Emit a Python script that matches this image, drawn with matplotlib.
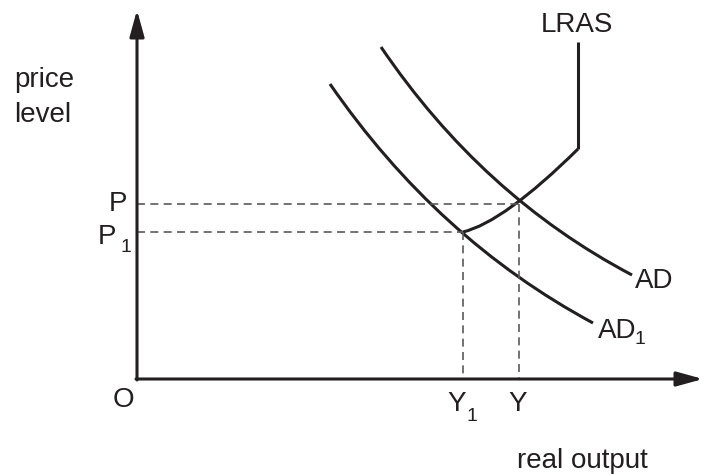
import matplotlib
matplotlib.use("Agg")
import matplotlib.pyplot as plt
from matplotlib.path import Path
from matplotlib.patches import PathPatch

plt.rcParams['font.family'] = ['Liberation Sans', 'DejaVu Sans']

# Curve definitions (quadratic Bezier: start, control, end) in chart units
ad_curve = [(244, 332), (345, 183), (495, 104)]
ad1_curve = [(193, 295), (300, 140), (456, 56)]
sras_curve = [(326, 147), (367, 157), (441, 230)]
lras_vertical_x = 441
lras_vertical_y = [230, 337]

# Equilibria
eq_points = {"P": (382, 175), "P1": (326, 147)}

INK = '#231f20'
DASH = '#5a5a5a'

fig = plt.figure(figsize=(7.04, 4.74), dpi=100)
W, H = 704, 474
ox, oy = 137, 379
ax = fig.add_axes([ox / W, (H - oy) / H, (W - ox) / W, (oy - 10) / H])
ax.set_xlim(0, W - ox)
ax.set_ylim(0, oy - 10)
ax.axis('off')

# axes with arrows
arrow_kw = dict(arrowstyle='-|>,head_length=0.8,head_width=0.22', color=INK,
                lw=2.2, shrinkA=0, shrinkB=0, mutation_scale=20)
ax.annotate('', xy=(566, 0), xytext=(-1, 0), arrowprops=arrow_kw, annotation_clip=False)
ax.annotate('', xy=(0, 369), xytext=(0, -1), arrowprops=arrow_kw, annotation_clip=False)

def bez(pts):
    return PathPatch(Path(pts, [Path.MOVETO, Path.CURVE3, Path.CURVE3]),
                     fill=False, ec=INK, lw=2.2, capstyle='butt', clip_on=False)

for c in (ad_curve, ad1_curve, sras_curve):
    ax.add_patch(bez(c))
ax.plot([lras_vertical_x, lras_vertical_x], lras_vertical_y, color=INK, lw=2.2,
        solid_capstyle='butt', clip_on=False)

for (x, y) in eq_points.values():
    ax.plot([0, x], [y, y], color=DASH, lw=1.2, dashes=(4.8, 3.2))
    ax.plot([x, x], [y, 0], color=DASH, lw=1.2, dashes=(4.8, 3.2))

fs = 20
sub = 14
tk = dict(fontsize=fs, color=INK, va='baseline', clip_on=False)
sk = dict(fontsize=sub, color=INK, va='baseline', ha='left', clip_on=False)
ax.text(-123, 292, 'price', ha='left', **tk)
ax.text(-123, 257, 'level', ha='left', **tk)
ax.text(440, 347, 'LRAS', ha='center', **tk)
ax.text(-10, 168, 'P', ha='right', **tk)
ax.text(-39, 135, 'P', ha='left', **tk)
ax.text(-17, 127, '1', **sk)
ax.text(-14, -28, 'O', ha='center', **tk)
ax.text(310, -32, 'Y', ha='left', **tk)
ax.text(329, -42, '1', **sk)
ax.text(371, -32, 'Y', ha='left', **tk)
ax.text(380, -89, 'real output', ha='left', **tk)
ax.text(498, 91, 'AD', ha='left', **tk)
ax.text(461, 41, 'AD', ha='left', **tk)
ax.text(498, 35, '1', **sk)

fig.savefig('out.png', dpi=100)
